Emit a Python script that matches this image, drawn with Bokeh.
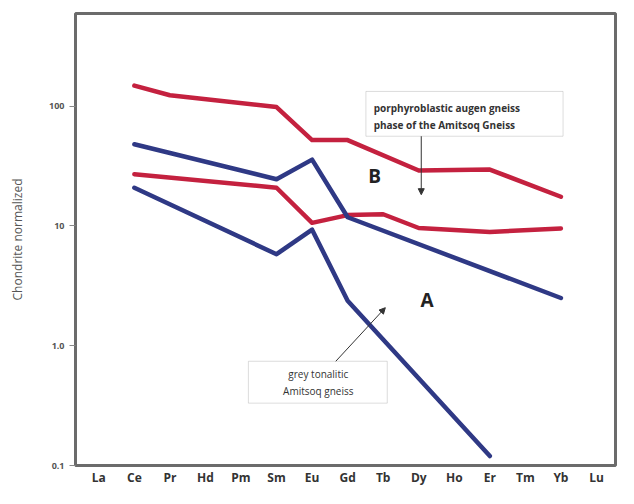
from bokeh.plotting import figure
from bokeh.models import (Label, Arrow, NormalHead, BoxAnnotation, FixedTicker,
                          Range1d)
from bokeh.embed import file_html
from bokeh.resources import INLINE

# ---- data -------------------------------------------------------------
elements = ["La", "Ce", "Pr", "Hd", "Pm", "Sm", "Eu", "Gd", "Tb", "Dy",
            "Ho", "Er", "Tm", "Yb", "Lu"]

red_top_el = ["Ce", "Pr", "Sm", "Eu", "Gd", "Dy", "Er", "Yb"]
red_top_val = [148, 123, 98, 52, 52, 29, 29.5, 17.5]

red_low_el = ["Ce", "Sm", "Eu", "Gd", "Tb", "Dy", "Er", "Yb"]
red_low_val = [27, 20.8, 10.6, 12.3, 12.5, 9.6, 8.9, 9.5]

blue_up_el = ["Ce", "Sm", "Eu", "Gd", "Yb"]
blue_up_val = [48, 24.5, 35.7, 11.8, 2.5]

blue_low_el = ["Ce", "Sm", "Eu", "Gd", "Er"]
blue_low_val = [20.8, 5.8, 9.3, 2.37, 0.12]

y_ticks = [0.1, 1, 10, 100]
y_tick_labels = ["0.1", "1.0", "10", "100"]

RED = "#c4213f"
BLUE = "#2f3985"
FONT = "Open Sans"

idx = {e: i for i, e in enumerate(elements)}

# ---- layout helpers (reference px -> data) --------------------------------
X0, DX = 99.0, 36.6          # ref px position of La, px per element
Y01, DEC = 477.0, 123.0      # ref px of 0.1, px per decade


def px_x(px):
    return (px - X0) / DX


def px_y(py):
    return 10 ** ((Y01 - py) / DEC - 1)


W, H = 618, 488
p = figure(width=W, height=H, output_backend="svg", toolbar_location=None,
           y_axis_type="log",
           x_range=Range1d(px_x(75), px_x(631)),
           y_range=Range1d(0.1, px_y(13)),
           min_border_left=75, min_border_right=3,
           min_border_top=13, min_border_bottom=18)

p.background_fill_color = "white"
p.border_fill_color = "white"
p.outline_line_color = "#6b6b6b"
p.outline_line_width = 3
p.xgrid.visible = False
p.ygrid.visible = False

# series
for els, vals, col in [(red_top_el, red_top_val, RED),
                       (red_low_el, red_low_val, RED),
                       (blue_up_el, blue_up_val, BLUE),
                       (blue_low_el, blue_low_val, BLUE)]:
    p.line([idx[e] for e in els], vals, line_color=col, line_width=4.5,
           line_join="round", line_cap="round")

# axes
p.xaxis.ticker = FixedTicker(ticks=list(range(len(elements))))
p.xaxis.major_label_overrides = {i: e for i, e in enumerate(elements)}
p.xaxis.major_tick_out = 0
p.xaxis.major_tick_in = 0
p.xaxis.minor_tick_out = 0
p.xaxis.axis_line_color = None
p.xaxis.major_label_standoff = 3
p.xaxis.major_label_text_font = FONT
p.xaxis.major_label_text_font_size = "12px"
p.xaxis.major_label_text_line_height = 0.9
p.xaxis.major_label_text_font_style = "bold"
p.xaxis.major_label_text_color = "#333333"

p.yaxis.ticker = FixedTicker(ticks=y_ticks, minor_ticks=[])
p.yaxis.major_label_overrides = {t: l for t, l in zip(y_ticks, y_tick_labels)}
p.yaxis.axis_line_color = None
p.yaxis.major_tick_out = 6
p.yaxis.major_tick_in = 0
p.yaxis.major_tick_line_color = "#888888"
p.yaxis.minor_tick_out = 0
p.yaxis.minor_tick_in = 0
p.yaxis.major_label_standoff = 5
p.yaxis.major_label_text_font = FONT
p.yaxis.major_label_text_font_size = "9px"
p.yaxis.major_label_text_font_style = "bold"
p.yaxis.major_label_text_color = "#555555"
p.yaxis.axis_label = "Chondrite normalized"
p.yaxis.axis_label_text_font = FONT
p.yaxis.axis_label_text_font_size = "12px"
p.yaxis.axis_label_text_font_style = "normal"
p.yaxis.axis_label_text_color = "#555555"
p.yaxis.axis_label_standoff = 20

# annotation boxes
p.add_layout(BoxAnnotation(left=px_x(374), right=px_x(577), top=px_y(93),
                           bottom=px_y(139), fill_color="white", fill_alpha=1,
                           line_color="#8a8a8a", line_width=1))
p.add_layout(BoxAnnotation(left=px_x(253), right=px_x(396), top=px_y(370),
                           bottom=px_y(413), fill_color="white", fill_alpha=1,
                           line_color="#8a8a8a", line_width=1))

for txt, py in [("porphyroblastic augen gneiss", 110),
                ("phase of the Amitsoq Gneiss", 127)]:
    p.add_layout(Label(x=px_x(382), y=px_y(py), text=txt, text_font=FONT,
                       text_font_size="10px", text_font_style="bold",
                       text_color="#333333", text_baseline="middle",
                       text_align="left"))

for txt, py in [("grey tonalitic", 383), ("Amitsoq gneiss", 401)]:
    p.add_layout(Label(x=px_x(325), y=px_y(py), text=txt, text_font=FONT,
                       text_font_size="10px", text_color="#333333",
                       text_baseline="middle", text_align="center"))

for txt, px, py in [("B", 383, 180), ("A", 437, 307)]:
    p.add_layout(Label(x=px_x(px), y=px_y(py), text=txt, text_font=FONT,
                       text_font_size="19px", text_font_style="bold",
                       text_color="#222222", text_baseline="middle",
                       text_align="center"))

# arrows
p.add_layout(Arrow(x_start=px_x(431), y_start=px_y(139), x_end=px_x(431),
                   y_end=px_y(199), line_color="#333333", line_width=1,
                   end=NormalHead(size=6, fill_color="#333333",
                                  line_color="#333333")))
p.add_layout(Arrow(x_start=px_x(343), y_start=px_y(370), x_end=px_x(394),
                   y_end=px_y(315), line_color="#333333", line_width=1,
                   end=NormalHead(size=6, fill_color="#333333",
                                  line_color="#333333")))

open("out.html", "w").write(file_html(p, INLINE))
